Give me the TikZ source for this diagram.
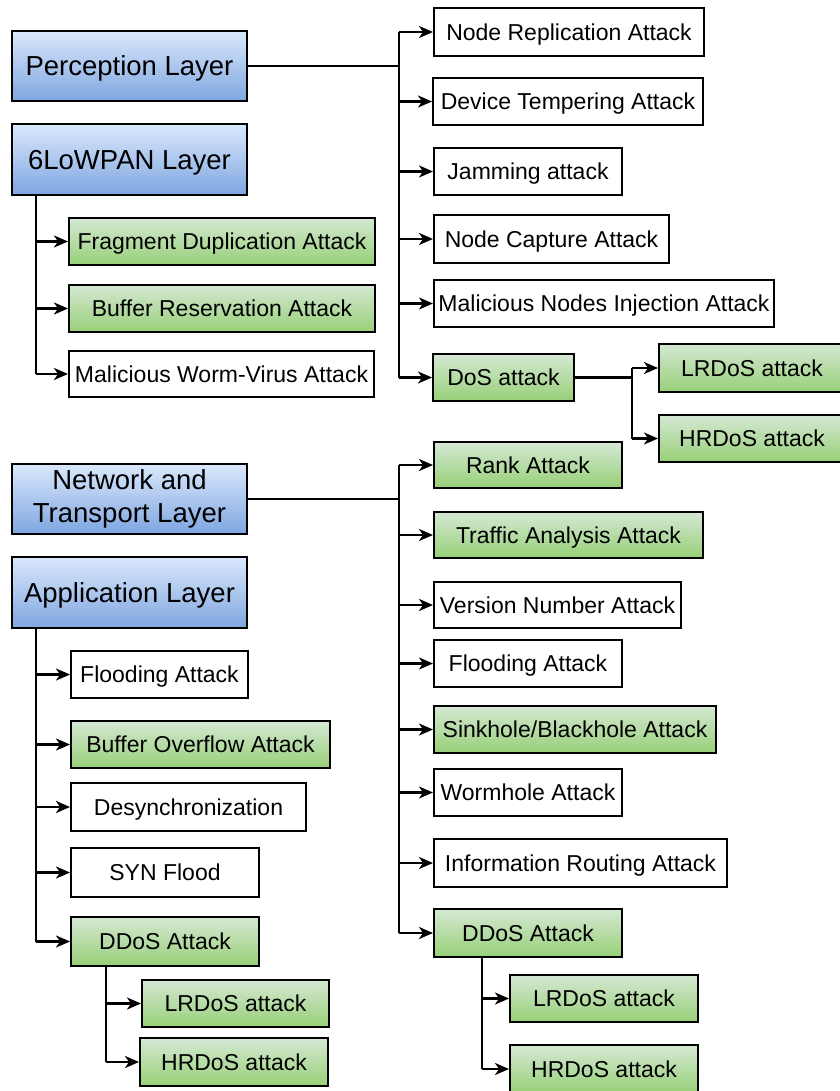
\documentclass[tikz,border=0pt]{standalone}
\usepackage{fontspec}
\setmainfont{Liberation Sans}
\usetikzlibrary{arrows.meta}

\definecolor{bluetop}{HTML}{DAE8FC}
\definecolor{bluebot}{HTML}{7EA6E0}
\definecolor{greentop}{HTML}{D5E8D4}
\definecolor{greenbot}{HTML}{97D077}

\tikzset{
  box/.style={draw=black, line width=2pt, rectangle, inner sep=0pt,
    align=center, font=\fontsize{23}{27}\selectfont,
    text height=16.8pt, text depth=0pt},
  plainbox/.style={box, fill=white},
  greenbox/.style={box, top color=greentop, bottom color=greenbot},
  layerbox/.style={box, top color=bluetop, bottom color=bluebot,
    minimum width=235pt, font=\fontsize{27.5}{33}\selectfont,
    text height=19.8pt, text depth=0pt},
  twoline/.style={text height=, text depth=},
  link/.style={line width=2.3pt},
  arr/.style={line width=2.3pt, -{Stealth[length=14pt,width=12pt,inset=4pt]}},
}

\begin{document}
\begin{tikzpicture}[x=1pt,y=-1pt]
\useasboundingbox[fill=white] (0,0) rectangle (839,1091);

% ---- layers ----
\node[layerbox, minimum height=70pt] (perc)   at (129.5,66)    {Perception Layer};
\node[layerbox, minimum height=71pt] (lowpan) at (129.5,159.5) {6LoWPAN Layer};
\node[layerbox, twoline, minimum height=70pt] (nt) at (129.5,499) {Network and\\Transport Layer};
\node[layerbox, minimum height=71pt] (app)    at (129.5,592.5) {Application Layer};

% ---- perception layer attacks ----
\node[plainbox, minimum width=270pt, minimum height=48pt] (nra) at (569,32)    {Node Replication Attack};
\node[plainbox, minimum width=270pt, minimum height=47pt] (dta) at (568,101.5) {Device Tempering Attack};
\node[plainbox, minimum width=188pt, minimum height=47pt] (jam) at (528,171.5) {Jamming attack};
\node[plainbox, minimum width=235pt, minimum height=48pt] (nca) at (551.5,239) {Node Capture Attack};
\node[plainbox, minimum width=340pt, minimum height=47pt] (mni) at (604,303.5) {Malicious Nodes Injection Attack};
\node[greenbox, minimum width=141pt, minimum height=47pt] (dos) at (503.5,377.5) {DoS attack};
\node[greenbox, minimum width=186pt, minimum height=48pt] (lr1) at (752,368)   {LRDoS attack};
\node[greenbox, minimum width=186pt, minimum height=47pt] (hr1) at (752,438.5) {HRDoS attack};

% ---- 6LoWPAN attacks ----
\node[greenbox, minimum width=306pt, minimum height=47pt] (fda) at (222,241.5) {Fragment Duplication Attack};
\node[greenbox, minimum width=306pt, minimum height=47pt] (bra) at (222,308.5) {Buffer Reservation Attack};
\node[plainbox, minimum width=305pt, minimum height=46pt] (mwv) at (221.5,374) {Malicious Worm-Virus Attack};

% ---- network and transport layer attacks ----
\node[greenbox, minimum width=188pt, minimum height=46pt] (rank) at (528,465)   {Rank Attack};
\node[greenbox, minimum width=269pt, minimum height=46pt] (taa)  at (568.5,535) {Traffic Analysis Attack};
\node[plainbox, minimum width=247pt, minimum height=46pt] (vna)  at (557.5,605) {Version Number Attack};
\node[plainbox, minimum width=188pt, minimum height=47pt] (fl2)  at (528,663.5) {Flooding Attack};
\node[greenbox, minimum width=282pt, minimum height=47pt] (sink) at (575,729.5) {Sinkhole/Blackhole Attack};
\node[plainbox, minimum width=188pt, minimum height=47pt] (worm) at (528,792.5) {Wormhole Attack};
\node[plainbox, minimum width=293pt, minimum height=48pt] (ira)  at (580.5,863) {Information Routing Attack};
\node[greenbox, minimum width=188pt, minimum height=48pt] (dd2)  at (528,933)   {DDoS Attack};
\node[greenbox, minimum width=188pt, minimum height=47pt] (lr3)  at (604,998.5) {LRDoS attack};
\node[greenbox, minimum width=188pt, minimum height=48pt] (hr3)  at (604,1069)  {HRDoS attack};

% ---- application layer attacks ----
\node[plainbox, minimum width=177pt, minimum height=47pt] (fl1)  at (159.5,674.5) {Flooding Attack};
\node[greenbox, minimum width=259pt, minimum height=47pt] (boa)  at (200.5,744.5) {Buffer Overflow Attack};
\node[plainbox, minimum width=235pt, minimum height=48pt] (desy) at (188.5,807)   {Desynchronization};
\node[plainbox, minimum width=188pt, minimum height=49pt] (syn)  at (165,872.5)   {SYN Flood};
\node[greenbox, minimum width=188pt, minimum height=49pt] (dd1)  at (165,941.5)   {DDoS Attack};
\node[greenbox, minimum width=187pt, minimum height=47pt] (lr2)  at (235.5,1003.5) {LRDoS attack};
\node[greenbox, minimum width=188pt, minimum height=48pt] (hr2)  at (234,1062)    {HRDoS attack};

% ---- trunk x positions ----
\coordinate (tA) at (399,0);   % right trunk, upper tree
\coordinate (tB) at (399,0);   % right trunk, lower tree
\coordinate (sL) at (36,0);    % left trunks under the layer boxes
\coordinate (dR) at (632,0);   % DoS split
\coordinate (dL) at (106,0);   % application DDoS split
\coordinate (dM) at (482,0);   % network DDoS split

% perception layer tree
\draw[link] (perc.east) -- (tA |- perc.east);
\draw[link] (tA |- nra.west) -- (tA |- dos.west);
\foreach \n in {nra,dta,jam,nca,mni,dos}
  \draw[arr] (tA |- \n.west) -- (\n.west);
\draw[link] (dos.east) -- (dR |- dos.east);
\draw[link] (dR |- lr1.west) -- (dR |- hr1.west);
\foreach \n in {lr1,hr1}
  \draw[arr] (dR |- \n.west) -- (\n.west);

% 6LoWPAN tree
\draw[link] (sL |- lowpan.south) -- (sL |- mwv.west);
\foreach \n in {fda,bra,mwv}
  \draw[arr] (sL |- \n.west) -- (\n.west);

% network and transport tree
\draw[link] (nt.east) -- (tB |- nt.east);
\draw[link] (tB |- rank.west) -- (tB |- dd2.west);
\foreach \n in {rank,taa,vna,fl2,sink,worm,ira,dd2}
  \draw[arr] (tB |- \n.west) -- (\n.west);
\draw[link] (dM |- dd2.south) -- (dM |- hr3.west);
\foreach \n in {lr3,hr3}
  \draw[arr] (dM |- \n.west) -- (\n.west);

% application tree
\draw[link] (sL |- app.south) -- (sL |- dd1.west);
\foreach \n in {fl1,boa,desy,syn,dd1}
  \draw[arr] (sL |- \n.west) -- (\n.west);
\draw[link] (dL |- dd1.south) -- (dL |- hr2.west);
\foreach \n in {lr2,hr2}
  \draw[arr] (dL |- \n.west) -- (\n.west);
\end{tikzpicture}
\end{document}
